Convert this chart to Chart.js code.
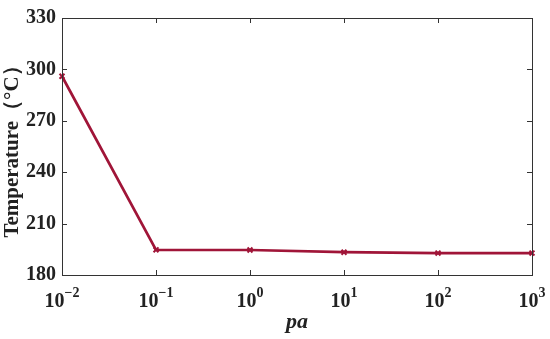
<!DOCTYPE html>
<html><head><meta charset="utf-8">
<script src="https://cdn.jsdelivr.net/npm/chart.js@4/dist/chart.umd.min.js"></script>
<style>html,body{margin:0;padding:0;background:#fff}#wrap{width:550px;height:339px}</style>
</head><body><div id="wrap"><canvas id="c"></canvas></div>
<script>
const paValues = [0.01, 0.1, 1, 10, 100, 1000];
const temperature = [296, 194.7, 194.6, 193.3, 192.8, 192.8];
const xTickValues = [0.01, 0.1, 1, 10, 100, 1000];
const xTickExponents = ['\u22122', '\u22121', '0', '1', '2', '3'];
const yTicks = [180, 210, 240, 270, 300, 330];

const FONT = '"Liberation Serif", "Times New Roman", serif';
const LINE = '#a01538';

const framePlugin = {
  id: 'frame',
  afterDraw(chart) {
    const ctx = chart.ctx, a = chart.chartArea;
    const xs = chart.scales.x, ys = chart.scales.y;
    ctx.save();
    ctx.strokeStyle = '#333';
    ctx.lineWidth = 1;
    ctx.strokeRect(a.left + 0.5, a.top + 0.5, a.right - a.left, a.bottom - a.top);
    ctx.beginPath();
    const tl = 5;
    xTickValues.forEach(v => {
      const px = Math.round(xs.getPixelForValue(v)) + 0.5;
      ctx.moveTo(px, a.bottom); ctx.lineTo(px, a.bottom - tl);
      ctx.moveTo(px, a.top); ctx.lineTo(px, a.top + tl);
    });
    yTicks.forEach(v => {
      const py = Math.round(ys.getPixelForValue(v)) + 0.5;
      ctx.moveTo(a.left, py); ctx.lineTo(a.left + tl, py);
      ctx.moveTo(a.right, py); ctx.lineTo(a.right - tl, py);
    });
    ctx.stroke();
    ctx.fillStyle = '#222';
    ctx.textBaseline = 'alphabetic';
    xTickValues.forEach((v, i) => {
      const px = xs.getPixelForValue(v);
      ctx.font = 'bold 20px ' + FONT;
      const wb = ctx.measureText('10').width;
      ctx.font = 'bold 14px ' + FONT;
      const we = ctx.measureText(xTickExponents[i]).width;
      const start = px - (wb + we) / 2;
      const base = a.bottom + 32;
      ctx.font = 'bold 20px ' + FONT;
      ctx.textAlign = 'left';
      ctx.fillText('10', start, base);
      ctx.font = 'bold 14px ' + FONT;
      ctx.fillText(xTickExponents[i], start + wb, base - 10);
    });
    ctx.restore();
  }
};

new Chart(document.getElementById('c'), {
  type: 'line',
  data: {
    datasets: [{
      data: paValues.map((x, i) => ({x: x, y: temperature[i]})),
      borderColor: LINE,
      backgroundColor: LINE,
      borderWidth: 2.7,
      pointStyle: 'crossRot',
      pointRadius: 3.5,
      pointBorderWidth: 2,
      pointBorderColor: LINE,
      tension: 0,
      clip: false
    }]
  },
  options: {
    responsive: true,
    maintainAspectRatio: false,
    animation: false,
    layout: {padding: {top: 10, right: 18, left: 0, bottom: 0}},
    plugins: {legend: {display: false}, tooltip: {enabled: false}},
    scales: {
      x: {
        type: 'logarithmic',
        min: 0.01, max: 1000,
        afterBuildTicks: s => { s.ticks = xTickValues.map(v => ({value: v})); },
        afterFit: s => { s.height = 64; },
        grid: {display: false, drawTicks: false},
        border: {display: false},
        ticks: {callback: () => '', display: true},
        title: {display: true, text: 'pa', color: '#222',
          font: {family: FONT, size: 22, weight: 'bold', style: 'italic'}, padding: {top: 0, bottom: 3}}
      },
      y: {
        min: 180, max: 330,
        afterBuildTicks: s => { s.ticks = yTicks.map(v => ({value: v})); },
        afterFit: s => { s.width = 62; },
        grid: {display: false, drawTicks: false},
        border: {display: false},
        ticks: {color: '#222', padding: 6, font: {family: FONT, size: 20, weight: 'bold'}},
        title: {display: true, text: 'Temperature（°C）', color: '#222',
          font: {family: FONT, size: 21, weight: 'bold'}, padding: {top: 0, bottom: 0}}
      }
    }
  },
  plugins: [framePlugin]
});
</script></body></html>
